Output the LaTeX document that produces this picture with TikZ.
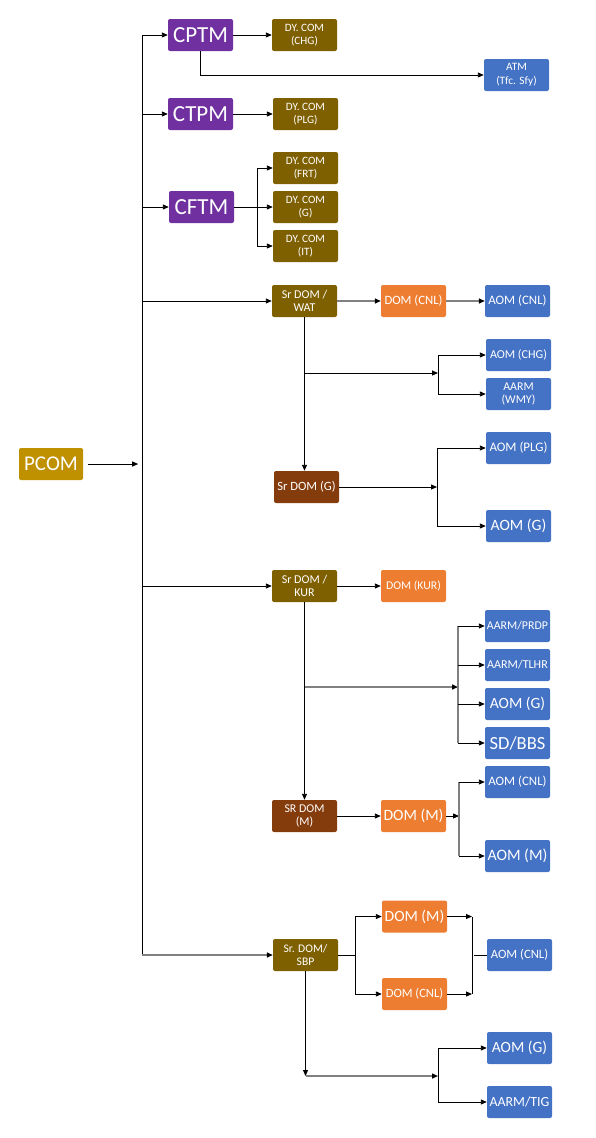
\documentclass[tikz,border=0pt]{standalone}
\usepackage{fontspec}
\setmainfont{Carlito}
\usetikzlibrary{arrows.meta}
\definecolor{cpurple}{HTML}{7030A0}
\definecolor{colive}{HTML}{7F6000}
\definecolor{cblue}{HTML}{4472C4}
\definecolor{corange}{HTML}{ED7D31}
\definecolor{cbrown}{HTML}{843C0C}
\definecolor{cgold}{HTML}{BF9000}
\begin{document}
\begin{tikzpicture}[x=1pt,y=-1pt]
\tikzset{box/.style={rectangle,rounded corners=2pt,minimum width=65pt,minimum height=32pt,inner sep=1pt,text=white,align=center}}
\tikzset{fs/.style={font=\fontsize{#1}{13.5}\selectfont}}
\tikzset{link/.style={line width=0.9pt},arr/.style={link,-{Triangle[length=6pt,width=5pt]}}}
\tikzset{glink/.style={line width=1.4pt,draw=gray},garr/.style={glink,-{Triangle[length=6pt,width=5pt,black]}}}
\useasboundingbox (0,0) rectangle (596,1138);

% top managers
\node[box,fill=cgold,fs=21,minimum width=64pt] (pcom) at (51,464) {PCOM};
\node[box,fill=cpurple,fs=23] (cptm) at (200.5,35) {CPTM};
\node[box,fill=cpurple,fs=23] (ctpm) at (200.5,114) {CTPM};
\node[box,fill=cpurple,fs=23] (cftm) at (201.5,207) {CFTM};
\node[box,fill=colive,fs=11.2] (dychg) at (304.5,35) {DY. COM\\(CHG)};
\node[box,fill=cblue,fs=11.3] (atm) at (516.5,75) {ATM\\(Tfc. Sfy)};
\node[box,fill=colive,fs=11.2] (dyplg) at (305.5,114) {DY. COM\\(PLG)};
\node[box,fill=colive,fs=11.2] (dyfrt) at (305.5,168) {DY. COM\\(FRT)};
\node[box,fill=colive,fs=11.2] (dyg) at (305.5,207) {DY. COM\\(G)};
\node[box,fill=colive,fs=11.2] (dyit) at (305.5,246) {DY. COM\\(IT)};

% WAT
\node[box,fill=colive,fs=12] (wat) at (304.5,301) {Sr DOM /\\WAT};
\node[box,fill=corange,fs=12.7] (domcnl) at (413.5,301) {DOM (CNL)};
\node[box,fill=cblue,fs=12.9] (aomcnl) at (517.5,301) {AOM (CNL)};
\node[box,fill=cblue,fs=12.1] (aomchg) at (518.5,355) {AOM (CHG)};
\node[box,fill=cblue,fs=11.9] (aarmwmy) at (518.5,394) {AARM\\(WMY)};
\node[box,fill=cbrown,fs=12.6] (srdomg) at (306.5,487) {Sr DOM (G)};
\node[box,fill=cblue,fs=13] (aomplg) at (518.5,448) {AOM (PLG)};
\node[box,fill=cblue,fs=15.7] (aomg) at (518.5,526) {AOM (G)};

% KUR
\node[box,fill=colive,fs=12] (kur) at (304.5,586) {Sr DOM /\\KUR};
\node[box,fill=corange,fs=11.8] (domkur) at (413.5,586) {DOM (KUR)};
\node[box,fill=cblue,fs=11.9] (prdp) at (517.5,626) {AARM/PRDP};
\node[box,fill=cblue,fs=12.1] (tlhr) at (517.5,665) {AARM/TLHR};
\node[box,fill=cblue,fs=15.6] (aomgk) at (517.5,704) {AOM (G)};
\node[box,fill=cblue,fs=18.5] (sdbbs) at (517.5,743) {SD/BBS};
\node[box,fill=cblue,fs=12.9] (aomcnlm) at (517.5,782) {AOM (CNL)};
\node[box,fill=cblue,fs=15.9] (aomm) at (517.5,856) {AOM (M)};
\node[box,fill=cbrown,fs=11.9] (srdomm) at (304.5,816) {SR DOM\\(M)};
\node[box,fill=corange,fs=15.7] (domm) at (413.5,816) {DOM (M)};

% SBP
\node[box,fill=colive,fs=11.6] (sbp) at (305.5,955) {Sr. DOM/\\SBP};
\node[box,fill=corange,fs=15.6] (dommsbp) at (414.5,916.5) {DOM (M)};
\node[box,fill=corange,fs=12.6] (domcnlsbp) at (414.5,994) {DOM (CNL)};
\node[box,fill=cblue,fs=12.7] (aomcnlsbp) at (519.5,955) {AOM (CNL)};
\node[box,fill=cblue,fs=15.6] (aomgsbp) at (519.5,1048) {AOM (G)};
\node[box,fill=cblue,fs=13.9] (tig) at (519.5,1102) {AARM/TIG};

% forks
\coordinate (tr) at (142,0);
\coordinate (fk1) at (257,207);
\coordinate (fk2) at (438,373);
\coordinate (fk3) at (437,487);
\coordinate (fk4) at (458,687);
\coordinate (fk5) at (459,816);
\coordinate (fk6) at (355,955);
\coordinate (fk7) at (472,955);
\coordinate (fk8) at (438,1076);

% trunk
\draw[arr] (pcom.east) ++(5,0) -- ++(50,0);
\draw[link] (tr |- cptm) -- (tr |- sbp);
\draw[arr] (tr |- cptm) -- (cptm);
\draw[arr] (tr |- ctpm) -- (ctpm);
\draw[arr] (tr |- cftm) -- (cftm);
\draw[arr] (tr |- wat) -- (wat);
\draw[arr] (tr |- kur) -- (kur);
\draw[garr] (tr |- sbp) -- (sbp);

% CPTM, CTPM, CFTM
\draw[arr] (cptm) -- (dychg);
\draw[arr] (cptm.south) -- (cptm.south |- atm) -- (atm);
\draw[arr] (ctpm) -- (dyplg);
\draw[arr] (cftm) -- (dyg);
\draw[link] (fk1 |- dyfrt) -- (fk1 |- dyit);
\draw[arr] (fk1 |- dyfrt) -- (dyfrt);
\draw[arr] (fk1 |- dyit) -- (dyit);

% WAT
\draw[garr] (wat) -- (domcnl);
\draw[garr] (domcnl) -- (aomcnl);
\draw[arr] (wat.south) -- (wat.south |- srdomg.north);
\draw[arr] (wat.south |- fk2) -- (fk2);
\draw[link] (fk2 |- aomchg) -- (fk2 |- aarmwmy);
\draw[arr] (fk2 |- aomchg) -- (aomchg);
\draw[arr] (fk2 |- aarmwmy) -- (aarmwmy);
\draw[arr] (srdomg) -- (fk3);
\draw[link] (fk3 |- aomplg) -- (fk3 |- aomg);
\draw[arr] (fk3 |- aomplg) -- (aomplg);
\draw[arr] (fk3 |- aomg) -- (aomg);

% KUR
\draw[arr] (kur) -- (domkur);
\draw[arr] (kur.south) -- (kur.south |- srdomm.north);
\draw[garr] (kur.south |- fk4) -- (fk4);
\draw[glink] (fk4 |- prdp) -- (fk4 |- sdbbs);
\foreach \n in {prdp,tlhr,aomgk,sdbbs}
  \draw[arr] (fk4 |- \n) -- (\n);
\draw[arr] (srdomm) -- (domm);
\draw[arr] (domm) -- (fk5);
\draw[glink] (fk5 |- aomcnlm) -- (fk5 |- aomm);
\draw[arr] (fk5 |- aomcnlm) -- (aomcnlm);
\draw[arr] (fk5 |- aomm) -- (aomm);

% SBP
\draw[link] (sbp) -- (fk6);
\draw[link] (fk6 |- dommsbp) -- (fk6 |- domcnlsbp);
\draw[arr] (fk6 |- dommsbp) -- (dommsbp);
\draw[arr] (fk6 |- domcnlsbp) -- (domcnlsbp);
\draw[arr] (dommsbp) -- (fk7 |- dommsbp);
\draw[arr] (domcnlsbp) -- (fk7 |- domcnlsbp);
\draw[link] (fk7 |- dommsbp) -- (fk7 |- domcnlsbp);
\draw[link] (fk7) ++(2,0) -- (aomcnlsbp);
\draw[arr] (sbp.south) -- (sbp.south |- fk8);
\draw[garr] (sbp.south |- fk8) -- (fk8);
\draw[link] (fk8 |- aomgsbp) -- (fk8 |- tig);
\draw[arr] (fk8 |- aomgsbp) -- (aomgsbp);
\draw[arr] (fk8 |- tig) -- (tig);
\end{tikzpicture}
\end{document}
